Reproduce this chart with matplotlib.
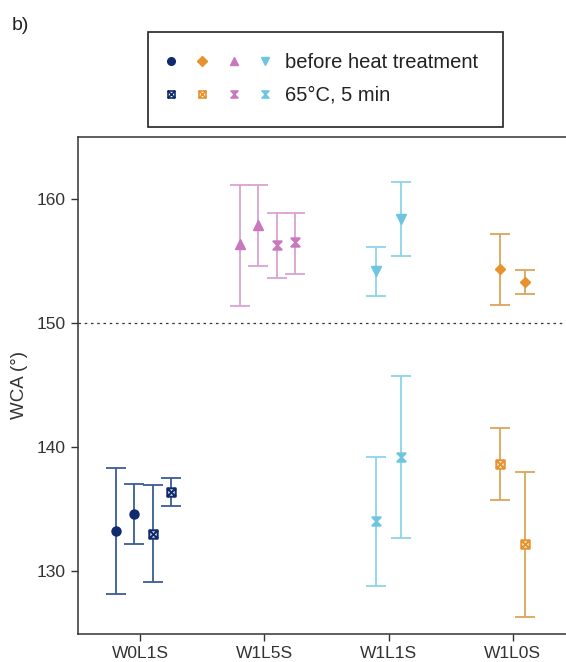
import matplotlib.pyplot as plt
import numpy as np
from matplotlib.path import Path
from matplotlib.lines import Line2D
from matplotlib.patches import Rectangle
from matplotlib.legend_handler import HandlerTuple

plt.rcParams['font.family'] = ['Liberation Sans', 'DejaVu Sans']

# 数据
categories = ['W0L1S', 'W1L5S', 'W1L1S', 'W1L0S']

# before heat treatment: mean, lower, upper
before_mean = [[133.2, 134.6], [156.4, 157.9], [154.15, 158.35], [154.35, 153.3]]
before_low = [[128.1, 132.2], [151.4, 154.55], [152.2, 155.4], [151.45, 152.3]]
before_high = [[138.3, 137.0], [161.15, 161.1], [156.1, 161.35], [157.15, 154.25]]

# 65°C, 5 min
after_mean = [[133.0, 136.35], [156.3, 156.5], [134.0, 139.2], [138.65, 132.2]]
after_low = [[129.1, 135.2], [153.6, 153.95], [128.8, 132.65], [135.7, 126.3]]
after_high = [[136.9, 137.5], [158.9, 158.9], [139.2, 145.7], [141.5, 137.95]]

legend_labels = ['before heat treatment', '65°C, 5 min']

# 位置偏移
before_offsets = [[-0.2, -0.05], [-0.2, -0.05], [-0.1, 0.1], [-0.1, 0.1]]
after_offsets = [[0.1, 0.25], [0.1, 0.25], [-0.1, 0.1], [-0.1, 0.1]]

# 颜色 (按类别顺序)
marker_col = ['#0f2b6e', '#c978bd', '#6cc6e0', '#e8922e']
line_col = ['#3a5d93', '#d9a3d2', '#8fd3e8', '#dca55a']
before_mk = ['o', '^', 'v', 'D']
before_ms = [6.5, 7, 7, 5.5]

# 标记：方格叉 / 沙漏叉
sq_x = Path([(-1, -1), (1, -1), (1, 1), (-1, 1), (-1, -1), (-1, -1), (1, 1), (-1, 1), (1, -1)],
            [Path.MOVETO, Path.LINETO, Path.LINETO, Path.LINETO, Path.CLOSEPOLY,
             Path.MOVETO, Path.LINETO, Path.MOVETO, Path.LINETO])
hourglass = Path([(-1, 1), (1, 1), (-1, -1), (1, -1), (-1, 1)],
                 [Path.MOVETO, Path.LINETO, Path.LINETO, Path.LINETO, Path.CLOSEPOLY])
after_mk = [sq_x, hourglass, hourglass, sq_x]
after_face = ['white', None, None, 'white']

fig = plt.figure(figsize=(5.66, 6.62), dpi=100)
ax = fig.add_axes([0.1383, 0.0423, 0.877, 0.7508])

x = np.arange(len(categories))
for i in range(len(categories)):
    for j in range(2):
        y = before_mean[i][j]
        ax.errorbar(x[i] + before_offsets[i][j], y,
                    yerr=[[y - before_low[i][j]], [before_high[i][j] - y]],
                    fmt=before_mk[i], color=marker_col[i], ecolor=line_col[i],
                    markersize=before_ms[i], elinewidth=1.3, capsize=7.5, capthick=1.3)
        y = after_mean[i][j]
        ax.errorbar(x[i] + after_offsets[i][j], y,
                    yerr=[[y - after_low[i][j]], [after_high[i][j] - y]],
                    fmt='none', ecolor=line_col[i],
                    elinewidth=1.3, capsize=7.5, capthick=1.3)
        ax.plot(x[i] + after_offsets[i][j], y, linestyle='none', marker=after_mk[i],
                markersize=6, mec=marker_col[i], mew=1.5,
                mfc=after_face[i] if after_face[i] else marker_col[i])

ax.axhline(150, color='#333333', linestyle=(0, (2, 3)), linewidth=0.9)

ax.set_xlim(-0.5, 3.5)
ax.set_ylim(124.9, 165)
ax.set_xticks(x)
ax.set_xticklabels(categories)
ax.set_yticks([130, 140, 150, 160])
ax.tick_params(labelsize=12.5, length=5, width=1, pad=4, colors='#333333', labelcolor='#333333')
ax.set_ylabel('WCA (°)', fontsize=13.5, color='#333333', labelpad=6)
for s in ['left', 'bottom', 'top']:
    ax.spines[s].set_color('#333333')
    ax.spines[s].set_linewidth(1.1)
ax.spines['right'].set_visible(False)

# 图例 (顺序: 蓝, 橙, 粉, 青)
order = [0, 3, 1, 2]
h_before = tuple(Line2D([], [], linestyle='none', marker=before_mk[k], color=marker_col[k],
                        markersize=5.5) for k in order)
h_after = tuple(Line2D([], [], linestyle='none', marker=after_mk[k], mec=marker_col[k], mew=1.2,
                       mfc=after_face[k] if after_face[k] else marker_col[k], markersize=5)
                for k in order)
leg = fig.legend([h_before, h_after], legend_labels,
                 handler_map={tuple: HandlerTuple(ndivide=None, pad=0)},
                 loc='upper left', bbox_to_anchor=(155.5 / 566, 1 - 53.5 / 662),
                 borderaxespad=0, fontsize=14.5, handlelength=6.2, handletextpad=0.22,
                 labelspacing=0.65, borderpad=0, frameon=False)
for t in leg.get_texts():
    t.set_color('#222222')
fig.patches.append(Rectangle((148.3 / 566, 1 - 126.7 / 662), 354.4 / 566, 94.4 / 662,
                             transform=fig.transFigure, fill=False,
                             edgecolor='#222222', linewidth=1.2))

fig.text(12 / 566, 1 - 25 / 662, 'b)', fontsize=14, va='center', ha='left', color='#222222')

fig.savefig('out.png', dpi=100)
